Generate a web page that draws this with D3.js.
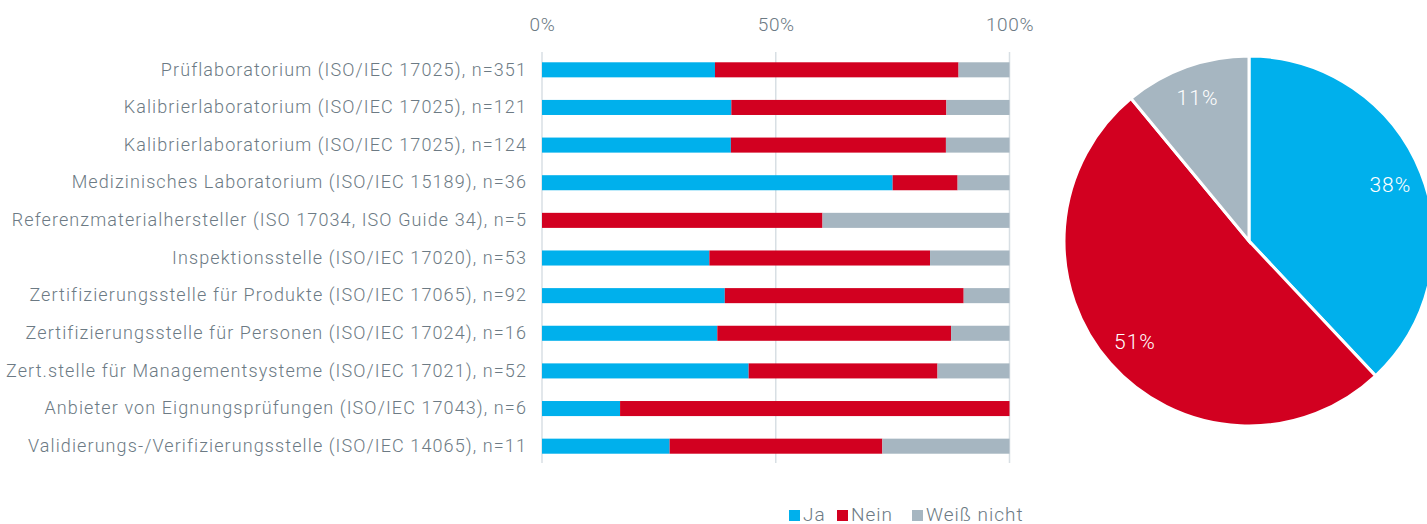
<!DOCTYPE html>
<html>

<head>
    <meta charset="utf-8">
    <style>
        body {
            margin: 0;
            background: #fff;
        }

        svg {
            font-family: Roboto, 'Open Sans', sans-serif;
            font-weight: 300;
        }
    </style>
</head>

<body>
    <svg width="1427" height="524"></svg>

    <script src="https://d3js.org/d3.v7.min.js"></script>
    <script>
        // categories (top to bottom)
        let categories = [
            "Prüflaboratorium (ISO/IEC 17025), n=351",
            "Kalibrierlaboratorium (ISO/IEC 17025), n=121",
            "Kalibrierlaboratorium (ISO/IEC 17025), n=124",
            "Medizinisches Laboratorium (ISO/IEC 15189), n=36",
            "Referenzmaterialhersteller (ISO 17034, ISO Guide 34), n=5",
            "Inspektionsstelle (ISO/IEC 17020), n=53",
            "Zertifizierungsstelle für Produkte (ISO/IEC 17065), n=92",
            "Zertifizierungsstelle für Personen (ISO/IEC 17024), n=16",
            "Zert.stelle für Managementsysteme (ISO/IEC 17021), n=52",
            "Anbieter von Eignungsprüfungen (ISO/IEC 17043), n=6",
            "Validierungs-/Verifizierungsstelle (ISO/IEC 14065), n=11"
        ]

        // shares in percent
        let ja = [37.0, 40.5, 40.4, 75.0, 0, 35.8, 39.1, 37.5, 44.2, 16.7, 27.3]
        let nein = [52.1, 46.0, 46.0, 13.9, 60.0, 47.2, 51.1, 50.0, 40.4, 83.3, 45.5]
        let weiss = [10.9, 13.5, 13.6, 11.1, 40.0, 17.0, 9.8, 12.5, 15.4, 0, 27.2]

        let seriesNames = ["Ja", "Nein", "Weiß nicht"]
        let seriesColors = ["#00b0ec", "#d20020", "#a6b6c1"]

        let xTicks = [0, 50, 100]

        // overall pie
        let pieValues = [38, 51, 11]

        let textColor = "#6c7a84"

        let svg = d3.select("svg")

        let rows = categories.map((c, i) => ({
            cat: c, Ja: ja[i], Nein: nein[i], "Weiß nicht": weiss[i]
        }))

        let stacked = d3.stack().keys(seriesNames)(rows)

        let x = d3.scaleLinear()
            .domain([0, 100])
            .range([542, 1009.5])

        let y = d3.scaleBand()
            .domain(categories)
            .range([51, 465])
            .paddingInner(0.6)
            .paddingOuter(0.3)

        let color = d3.scaleOrdinal()
            .domain(seriesNames)
            .range(seriesColors)

        // gridlines
        svg.append("g")
            .selectAll("line")
            .data(xTicks)
            .join("line")
            .attr("x1", d => x(d))
            .attr("x2", d => x(d))
            .attr("y1", 52)
            .attr("y2", 463)
            .style("stroke", "#d8dfe4")
            .style("stroke-width", 1.5)

        // top axis
        let xAxis = svg.append("g")
            .attr("transform", "translate(0,31)")
            .call(d3.axisTop(x).tickValues(xTicks).tickFormat(d => d + "%").tickSize(0).tickPadding(0))

        xAxis.select(".domain").remove()
        xAxis.selectAll("text")
            .style("font-size", "19px")
            .style("letter-spacing", "0.6px")
            .style("font-family", "Roboto, sans-serif")
            .style("fill", textColor)

        // bars
        svg.append("g")
            .selectAll("g")
            .data(stacked)
            .join("g")
            .style("fill", d => color(d.key))
            .selectAll("rect")
            .data(d => d)
            .join("rect")
            .attr("x", d => x(d[0]))
            .attr("width", d => x(d[1]) - x(d[0]))
            .attr("y", d => y(d.data.cat))
            .attr("height", y.bandwidth())

        // category labels
        let yAxis = svg.append("g")
            .attr("transform", "translate(527,0)")
            .call(d3.axisLeft(y).tickSize(0).tickPadding(0))

        yAxis.select(".domain").remove()
        yAxis.selectAll("text")
            .style("font-size", "18px")
            .style("letter-spacing", "1.1px")
            .style("font-family", "Roboto, sans-serif")
            .style("fill", textColor)

        // legend
        let legendX = [789, 837, 912]
        let legend = svg.append("g")
            .selectAll("g")
            .data(seriesNames)
            .join("g")
            .attr("transform", (d, i) => "translate(" + legendX[i] + ",510)")

        legend.append("rect")
            .attr("width", 11)
            .attr("height", 11)
            .style("fill", d => color(d))

        legend.append("text")
            .attr("x", 14)
            .attr("y", 10.5)
            .text(d => d)
            .style("font-size", "19px")
            .style("letter-spacing", "1px")
            .style("fill", textColor)

        // pie
        let cx = 1249, cy = 241, r = 185

        let pie = d3.pie().sort(null).value(d => d)
        let arcs = pie(pieValues)

        let arc = d3.arc().innerRadius(0).outerRadius(r)
        let labelArc = d3.arc().innerRadius(152).outerRadius(152)

        let pieG = svg.append("g")
            .attr("transform", "translate(" + cx + "," + cy + ")")

        pieG.selectAll("path")
            .data(arcs)
            .join("path")
            .attr("d", arc)
            .style("fill", (d, i) => seriesColors[i])
            .style("stroke", "white")
            .style("stroke-width", 3)

        pieG.selectAll("text")
            .data(arcs)
            .join("text")
            .attr("transform", d => "translate(" + labelArc.centroid(d) + ")")
            .attr("text-anchor", "middle")
            .attr("dy", "0.35em")
            .text(d => d.data + "%")
            .style("font-size", "21px")
            .style("letter-spacing", "1px")
            .style("fill", "white")
    </script>
</body>

</html>
